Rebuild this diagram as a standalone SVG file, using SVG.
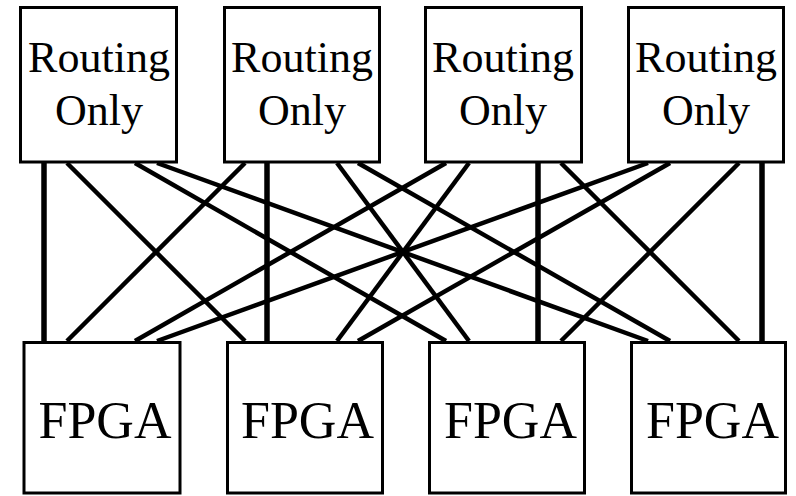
<svg xmlns="http://www.w3.org/2000/svg" width="796" height="496" viewBox="0 0 796 496">
<style>
.box{fill:#fff;stroke:#000;stroke-width:3}
.lbl{font-family:"Liberation Serif","Times New Roman",serif;fill:#000;text-anchor:middle}
.r{font-size:44px}
.f{font-size:52px}
.c line{stroke:#000;stroke-width:4.5;stroke-linecap:butt}
.c line.v{stroke-width:5.5}
</style>
<rect width="796" height="496" fill="#fff"/>
<g id="connectors" class="c">
<line class="v" x1="44" y1="163" x2="44" y2="341"/>
<line x1="67" y1="163" x2="245" y2="341"/>
<line x1="135" y1="163" x2="446" y2="341"/>
<line x1="157" y1="163" x2="648" y2="341"/>
<line x1="245" y1="163" x2="67" y2="341"/>
<line class="v" x1="267" y1="163" x2="267" y2="341"/>
<line x1="337" y1="163" x2="469" y2="341"/>
<line x1="358" y1="163" x2="670" y2="341"/>
<line x1="446" y1="163" x2="135" y2="341"/>
<line x1="469" y1="163" x2="337" y2="341"/>
<line class="v" x1="538" y1="163" x2="538" y2="341"/>
<line x1="561" y1="163" x2="739" y2="341"/>
<line x1="648" y1="163" x2="157" y2="341"/>
<line x1="670" y1="163" x2="358" y2="341"/>
<line x1="739" y1="163" x2="561" y2="341"/>
<line class="v" x1="762" y1="163" x2="762" y2="341"/>
</g>
<g id="routing1"><rect class="box" x="20.5" y="7.5" width="156" height="154.5"/><text class="lbl r" x="99" y="72">Routing</text><text class="lbl r" x="99" y="125">Only</text></g>
<g id="routing2"><rect class="box" x="224.5" y="7.5" width="155" height="154.5"/><text class="lbl r" x="302" y="72">Routing</text><text class="lbl r" x="302" y="125">Only</text></g>
<g id="routing3"><rect class="box" x="425.5" y="7.5" width="156" height="154.5"/><text class="lbl r" x="503" y="72">Routing</text><text class="lbl r" x="503" y="125">Only</text></g>
<g id="routing4"><rect class="box" x="628.5" y="7.5" width="155" height="154.5"/><text class="lbl r" x="706" y="72">Routing</text><text class="lbl r" x="706" y="125">Only</text></g>
<g id="fpga1"><rect class="box" x="24" y="342.5" width="156" height="150.5"/><text class="lbl f" x="105" y="438">FPGA</text></g>
<g id="fpga2"><rect class="box" x="227.5" y="342.5" width="155" height="150.5"/><text class="lbl f" x="307.5" y="438">FPGA</text></g>
<g id="fpga3"><rect class="box" x="429.5" y="342.5" width="155" height="150.5"/><text class="lbl f" x="510.5" y="438">FPGA</text></g>
<g id="fpga4"><rect class="box" x="631.5" y="342.5" width="154" height="150.5"/><text class="lbl f" x="712.5" y="438">FPGA</text></g>
</svg>
